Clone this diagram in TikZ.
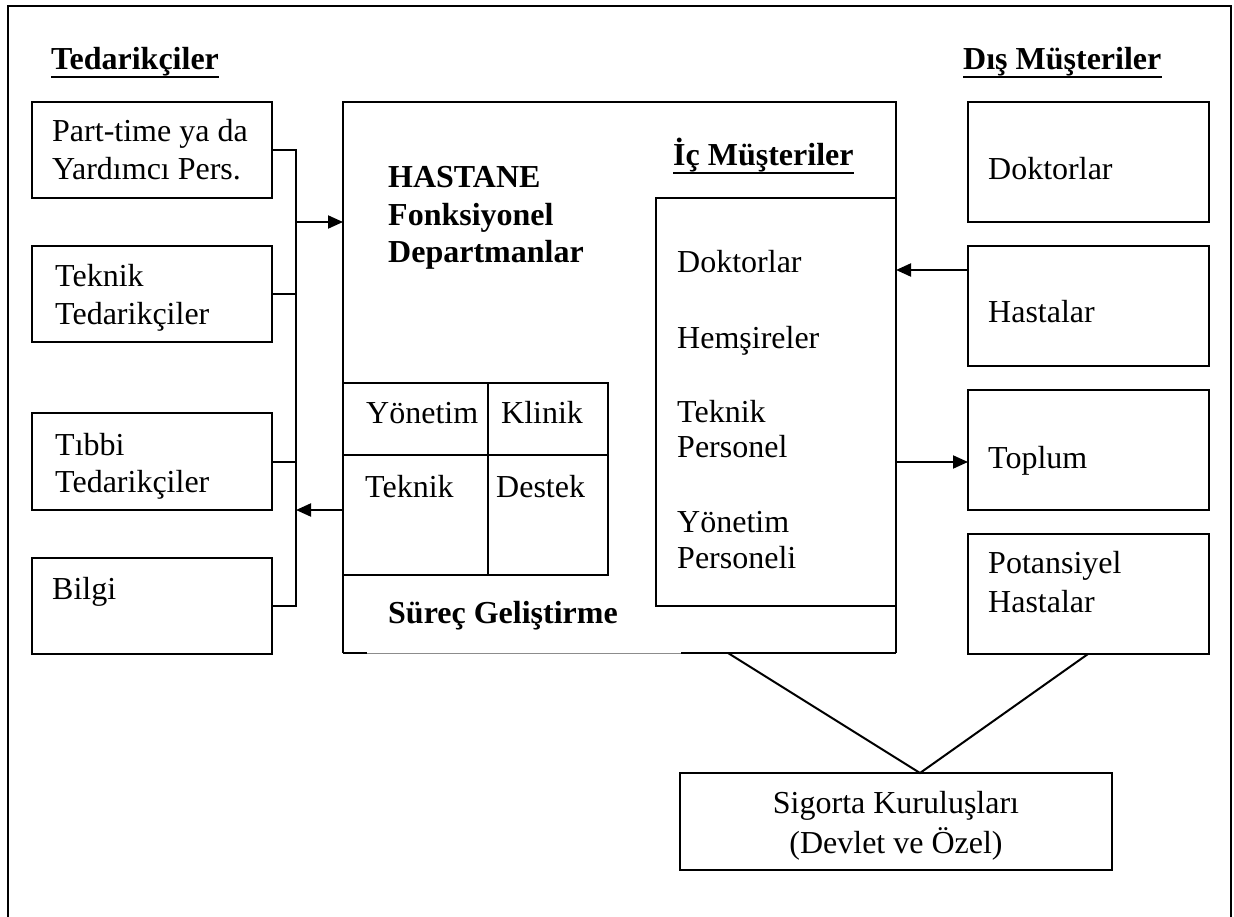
\documentclass[tikz,border=0pt]{standalone}
\usepackage{fontspec}
\setmainfont{Liberation Serif}
\usetikzlibrary{arrows.meta}
\begin{document}
\begin{tikzpicture}[x=1pt,y=-1pt,
  box/.style={draw,line width=2.2pt,inner sep=0pt,outer sep=0pt,anchor=north west},
  plain/.style={inner sep=0pt,outer sep=0pt,anchor=north west},
  txt/.style={inner sep=0pt,anchor=base west,font=\fontsize{32}{38}\selectfont},
  hd/.style={inner sep=0pt,anchor=base west,font=\fontsize{32}{38}\selectfont\bfseries},
  link/.style={line width=2pt},
  arr/.style={link,-{Triangle[length=15pt,width=13pt]}},
  uline/.style={line width=2.6pt},
]
\useasboundingbox (0,0) rectangle (1234,917);

% page frame, open at the bottom
\draw[line width=2.4pt] (8,917) -- (8,6) -- (1231,6) -- (1231,917);

% ---------- suppliers ----------
\node[hd] (supT) at (51,70) {Tedarikçiler};
\draw[uline] ([yshift=-7pt]supT.base west) -- ([yshift=-7pt]supT.base east);

\node[box,minimum width=240pt,minimum height=96pt] (p1) at (32,102) {};
\node[box,minimum width=240pt,minimum height=96pt] (p2) at (32,246) {};
\node[box,minimum width=240pt,minimum height=97pt] (p3) at (32,413) {};
\node[box,minimum width=240pt,minimum height=96pt] (p4) at (32,558) {};

\node[txt] (p1a) at (52,142) {Part-time ya da};
\node[txt] (p1b) at (52,180) {Yardımcı Pers.};
\node[txt] (p2a) at (55,287) {Teknik};
\node[txt] (p2b) at (55,324) {Tedarikçiler};
\node[txt] (p3a) at (55,455) {Tıbbi};
\node[txt] (p3b) at (55,492) {Tedarikçiler};
\node[txt] (p4a) at (52,599) {Bilgi};

% supplier bus
\coordinate (bus) at (296,0);
\draw[link] (p1.east) -- (p1.east -| bus) -- (p4.east -| bus) -- (p4.east);
\draw[link] (p2.east) -- (p2.east -| bus);
\draw[link] (p3.east) -- (p3.east -| bus);

% ---------- hospital ----------
\node[plain,minimum width=553pt,minimum height=551pt] (hosp) at (343,102) {};
\draw[line width=2.2pt] (hosp.south west) -- (hosp.north west) -- (hosp.north east) -- (hosp.south east);
\draw[line width=2.2pt] (hosp.south west) -- (hosp.south west -| 367,0);
\draw[line width=0.9pt,black!45] (hosp.south west -| 367,0) -- (hosp.south west -| 681,0);
\draw[line width=2.2pt] (hosp.south east -| 681,0) -- (hosp.south east);

\coordinate (inA) at (296,222);
\coordinate (outA) at (296,510);
\draw[arr] (inA) -- (inA -| hosp.west);
\draw[arr] (outA -| hosp.west) -- (outA);

\node[hd] (h1) at (388,188) {HASTANE};
\node[hd] (h2) at (388,226) {Fonksiyonel};
\node[hd] (h3) at (388,263) {Departmanlar};

% departments table
\node[box,minimum width=265pt,minimum height=192pt] (tab) at (343,383) {};
\draw[line width=2.2pt] (tab.north -| 488,0) -- (tab.south -| 488,0);
\draw[line width=2.2pt] (tab.west |- 0,455) -- (tab.east |- 0,455);
\node[txt] (t1) at (366,423) {Yönetim};
\node[txt] (t2) at (501,423) {Klinik};
\node[txt] (t3) at (365,497) {Teknik};
\node[txt] (t4) at (496,497) {Destek};

\node[hd] (sg) at (388,623) {Süreç Geliştirme};

% internal customers
\node[hd] (icT) at (673,166) {İç Müşteriler};
\draw[uline] ([yshift=-7pt]icT.base west) -- ([yshift=-7pt]icT.base east);
\node[box,minimum width=240pt,minimum height=408pt] (ic) at (656,198) {};
\node[txt] (i1) at (677,273) {Doktorlar};
\node[txt] (i2) at (677,348) {Hemşireler};
\node[txt] (i3) at (677,422) {Teknik};
\node[txt] (i4) at (677,457) {Personel};
\node[txt] (i5) at (677,532) {Yönetim};
\node[txt] (i6) at (677,568) {Personeli};

% ---------- external customers ----------
\node[hd] (disT) at (963,70) {Dış Müşteriler};
\draw[uline] ([yshift=-7pt]disT.base west) -- ([yshift=-7pt]disT.base east);

\node[box,minimum width=241pt,minimum height=120pt] (d1) at (968,102) {};
\node[box,minimum width=241pt,minimum height=120pt] (d2) at (968,246) {};
\node[box,minimum width=241pt,minimum height=120pt] (d3) at (968,390) {};
\node[box,minimum width=241pt,minimum height=120pt] (d4) at (968,534) {};

\node[txt] (d1a) at (988,180) {Doktorlar};
\node[txt] (d2a) at (988,323) {Hastalar};
\node[txt] (d3a) at (988,468) {Toplum};
\node[txt] (d4a) at (988,573) {Potansiyel};
\node[txt] (d4b) at (988,612) {Hastalar};

\draw[arr] (d2.west |- 0,270) -- (ic.east |- 0,270);
\draw[arr] (ic.east |- 0,462) -- (d3.west |- 0,462);

% ---------- insurers ----------
\node[box,minimum width=432pt,minimum height=97pt] (sig) at (680,773) {};
\node[inner sep=0pt,anchor=base,font=\fontsize{32}{38}\selectfont] (s1) at (896,813) {Sigorta Kuruluşları};
\node[inner sep=0pt,anchor=base,font=\fontsize{32}{38}\selectfont] (s2) at (896,853) {(Devlet ve Özel)};
\coordinate (apex) at (920,0);
\draw[link] (hosp.south -| 728,0) -- (sig.north -| apex) -- (d4.south -| 1088,0);
\end{tikzpicture}
\end{document}
